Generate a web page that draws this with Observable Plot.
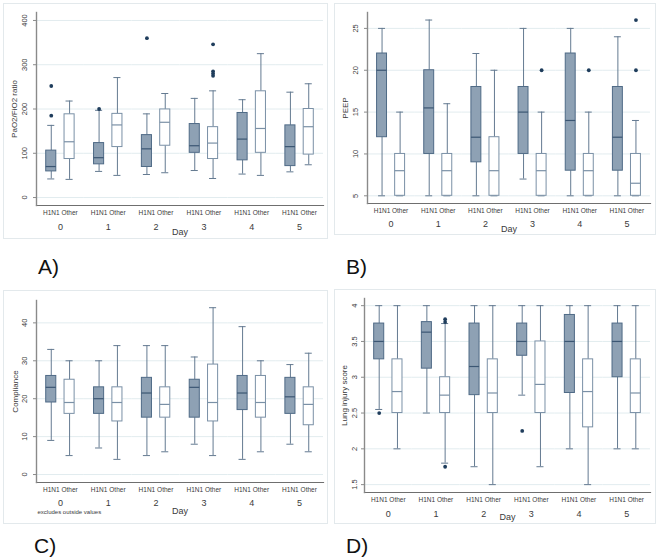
<!DOCTYPE html>
<html>
<head>
<meta charset="utf-8">
<script src="https://cdn.jsdelivr.net/npm/d3@7"></script>
<script src="https://cdn.jsdelivr.net/npm/@observablehq/plot@0.6"></script>
<style>
  html, body { margin: 0; padding: 0; background: #fff; }
  #page { position: relative; width: 662px; height: 558px; overflow: hidden; font-family: "Liberation Sans", Arial, sans-serif; }
  .frame { position: absolute; box-sizing: border-box; border: 1px solid #e3e9ec; }
  .holder { position: absolute; }
  .holder svg { display: block; max-width: none; }
  .tag { position: absolute; font-size: 21px; line-height: 21px; color: #111; font-family: "Liberation Sans", Arial, sans-serif; }
</style>
</head>
<body>
<div id="page"></div>
<script>
// ---------- shared categories ----------
const days = [0, 1, 2, 3, 4, 5];
const groups = ["H1N1", "Other"];
const xTitle = "Day";

// ---------- A) PaO2/FiO2 ratio ----------
const pfLabel = "PaO2/FiO2 ratio";
const pfTicks = [0, 100, 200, 300, 400];
const pfH1N1Low  = [42, 59, 52, 61, 53, 58];
const pfH1N1Q1   = [59, 75, 69, 101, 84, 71];
const pfH1N1Med  = [70, 90, 110, 117, 132, 115];
const pfH1N1Q3   = [106, 123, 141, 166, 191, 163];
const pfH1N1High = [163, 197, 189, 224, 221, 238];
const pfOtherLow  = [41, 50, 56, 43, 50, 74];
const pfOtherQ1   = [87, 114, 117, 87, 101, 97];
const pfOtherMed  = [126, 164, 170, 123, 156, 160];
const pfOtherQ3   = [188, 189, 199, 159, 240, 200];
const pfOtherHigh = [218, 271, 235, 241, 325, 257];
const pfOutDay   = [0, 0, 1, 2, 3, 3, 3, 3];
const pfOutGroup = ["H1N1", "H1N1", "H1N1", "H1N1", "Other", "Other", "Other", "Other"];
const pfOutValue = [252, 185, 200, 360, 346, 285, 280, 275];

// ---------- B) PEEP ----------
const peepLabel = "PEEP";
const peepTicks = [5, 10, 15, 20, 25];
const peepH1N1Low  = [5, 5, 5, 7, 5, 5];
const peepH1N1Q1   = [12, 10, 9, 10, 8, 8];
const peepH1N1Med  = [20, 15.5, 12, 15, 14, 12];
const peepH1N1Q3   = [22, 20, 18, 18, 22, 18];
const peepH1N1High = [25, 26, 22, 25, 25, 24];
const peepOtherLow  = [5, 5, 5, 5, 5, 5];
const peepOtherQ1   = [5, 5, 5, 5, 5, 5];
const peepOtherMed  = [8, 8, 8, 8, 8, 6.5];
const peepOtherQ3   = [10, 10, 12, 10, 10, 10];
const peepOtherHigh = [15, 16, 20, 15, 15, 14];
const peepOutDay   = [3, 4, 5, 5];
const peepOutGroup = ["Other", "Other", "Other", "Other"];
const peepOutValue = [20, 20, 20, 26];

// ---------- C) Compliance ----------
const compLabel = "Compliance";
const compNote = "excludes outside values";
const compTicks = [0, 10, 20, 30, 40];
const compH1N1Low  = [9, 7, 5, 8, 4, 8];
const compH1N1Q1   = [19, 16, 15, 15, 17, 16];
const compH1N1Med  = [23, 20, 21.5, 23, 21.5, 20.5];
const compH1N1Q3   = [26, 23, 25.5, 25, 26, 25.5];
const compH1N1High = [33, 30, 34, 31, 39, 29];
const compOtherLow  = [5, 4, 6, 5, 6, 6];
const compOtherQ1   = [16, 14, 15, 14, 15, 13];
const compOtherMed  = [19, 19, 18.5, 19, 19, 18.5];
const compOtherQ3   = [25, 23, 23, 29, 26, 23];
const compOtherHigh = [30, 34, 34, 44, 30, 32];
const compOutDay = [], compOutGroup = [], compOutValue = [];

// ---------- D) Lung injury score ----------
const lisLabel = "Lung injury score";
const lisTicks = [1.5, 2, 2.5, 3, 3.5, 4];
const lisH1N1Low  = [2.55, 2.5, 1.75, 2.75, 2, 2];
const lisH1N1Q1   = [3.25, 3.12, 2.75, 3.3, 2.78, 3];
const lisH1N1Med  = [3.5, 3.63, 3.15, 3.5, 3.5, 3.5];
const lisH1N1Q3   = [3.75, 3.77, 3.75, 3.75, 3.87, 3.75];
const lisH1N1High = [4, 4, 4, 4, 4, 4];
const lisOtherLow  = [2, 1.8, 1.5, 1.75, 1.5, 2];
const lisOtherQ1   = [2.5, 2.5, 2.5, 2.5, 2.3, 2.5];
const lisOtherMed  = [2.8, 2.75, 2.78, 2.9, 2.8, 2.78];
const lisOtherQ3   = [3.25, 3, 3.25, 3.5, 3.25, 3.25];
const lisOtherHigh = [4, 3.75, 4, 4, 4, 4];
const lisOutDay   = [0, 3, 1, 1, 1];
const lisOutGroup = ["H1N1", "H1N1", "Other", "Other", "Other"];
const lisOutValue = [2.5, 2.25, 3.81, 3.77, 1.75];

// ---------- styling ----------
const C = {
  h1Fill: "#8ea1b4", h1Stroke: "#4f6a86", h1Median: "#3b5673",
  otFill: "#ffffff", otStroke: "#7a90a6", otMedian: "#7a90a6",
  whisker: "#647a91", dot: "#1f3d5c", grid: "#e2ecef", axis: "#8a8a8a", text: "#3a3a3a"
};

function rowsFor(stats, group) {
  const [low, q1, med, q3, high] = stats;
  return days.map((d, i) => ({day: d, group, low: low[i], q1: q1[i], med: med[i], q3: q3[i], high: high[i]}));
}

function panel(cfg) {
  const H = rowsFor(cfg.h1, "H1N1");
  const O = rowsFor(cfg.ot, "Other");
  const all = H.concat(O);
  const outs = cfg.outDay.map((d, i) => ({day: d, group: cfg.outGroup[i], value: cfg.outValue[i]}));
  const marks = [
    Plot.gridY(cfg.ticks, {stroke: C.grid, strokeOpacity: 1, strokeWidth: 1}),
    Plot.ruleX(all, {fx: "day", x: "group", y1: "low", y2: "q1", stroke: C.whisker, strokeWidth: 1}),
    Plot.ruleX(all, {fx: "day", x: "group", y1: "q3", y2: "high", stroke: C.whisker, strokeWidth: 1}),
    Plot.tickY(all, {fx: "day", x: "group", y: "low", stroke: C.whisker, insetLeft: 1.5, insetRight: 1.5}),
    Plot.tickY(all, {fx: "day", x: "group", y: "high", stroke: C.whisker, insetLeft: 1.5, insetRight: 1.5}),
    Plot.barY(H, {fx: "day", x: "group", y1: "q1", y2: "q3", fill: C.h1Fill, stroke: C.h1Stroke, strokeWidth: 1}),
    Plot.barY(O, {fx: "day", x: "group", y1: "q1", y2: "q3", fill: C.otFill, stroke: C.otStroke, strokeWidth: 1}),
    Plot.tickY(H, {fx: "day", x: "group", y: "med", stroke: C.h1Median, strokeWidth: 1.2}),
    Plot.tickY(O, {fx: "day", x: "group", y: "med", stroke: C.otMedian, strokeWidth: 1.2}),
    Plot.dot(outs, {fx: "day", x: "group", y: "value", r: 1.9, fill: C.dot, stroke: null}),
    Plot.frame({anchor: "bottom", stroke: "#6f6f6f", strokeWidth: 1.2}),
    Plot.frame({anchor: "left", facetAnchor: "left", stroke: C.axis, strokeWidth: 1.4}),
    Plot.axisY({ticks: cfg.ticks, tickFormat: () => "", tickSize: 3, stroke: C.axis,
      label: cfg.label, labelAnchor: "center", labelArrow: false, labelOffset: cfg.labelOffset, fontSize: 8}),
    Plot.text(cfg.ticks, {fx: () => days[0], y: (d) => d, text: (d) => String(d), frameAnchor: "left",
      rotate: -90, textAnchor: "middle", lineAnchor: "bottom", dx: cfg.tickDx, fontSize: 7.5, fill: C.text}),
    Plot.axisX({anchor: "bottom", tickSize: 0, tickPadding: 4.5, fontSize: 6.5, label: null}),
    Plot.axisFx({anchor: "bottom", tickSize: 0, tickPadding: cfg.dayPad, fontSize: 9,
      label: xTitle, labelAnchor: "center", labelOffset: cfg.dayLabelOffset})
  ];
  if (cfg.note) {
    marks.push(Plot.text([cfg.note], {fx: () => days[0], frameAnchor: "bottom-left", textAnchor: "start",
      dx: 1, dy: cfg.noteDy, fontSize: 6, fill: C.text}));
  }
  return Plot.plot({
    width: cfg.w, height: cfg.h,
    marginLeft: cfg.ml, marginRight: cfg.mr, marginTop: cfg.mt, marginBottom: cfg.mb,
    style: {fontFamily: "'Liberation Sans', Arial, sans-serif", color: C.text, background: "transparent", overflow: "visible"},
    fx: {domain: days, padding: 0, round: false},
    x: {domain: groups, paddingInner: 0.45, paddingOuter: 0.53, round: false},
    y: {domain: cfg.yDomain},
    marks
  });
}

const panels = [
  {left: 3, top: 3, w: 325, h: 236, ml: 33, mr: 5, mt: 9, mb: 34, yDomain: [-18, 418],
   ticks: pfTicks, label: pfLabel, labelOffset: 25, tickDx: -10, dayPad: 18, dayLabelOffset: 29,
   h1: [pfH1N1Low, pfH1N1Q1, pfH1N1Med, pfH1N1Q3, pfH1N1High],
   ot: [pfOtherLow, pfOtherQ1, pfOtherMed, pfOtherQ3, pfOtherHigh],
   outDay: pfOutDay, outGroup: pfOutGroup, outValue: pfOutValue, tag: "A)", tagLeft: 38, tagTop: 256},
  {left: 334, top: 3, w: 322, h: 232, ml: 33, mr: 6, mt: 9, mb: 32, yDomain: [4.08, 26.9],
   ticks: peepTicks, label: peepLabel, labelOffset: 25, tickDx: -10, dayPad: 17, dayLabelOffset: 28,
   h1: [peepH1N1Low, peepH1N1Q1, peepH1N1Med, peepH1N1Q3, peepH1N1High],
   ot: [peepOtherLow, peepOtherQ1, peepOtherMed, peepOtherQ3, peepOtherHigh],
   outDay: peepOutDay, outGroup: peepOutGroup, outValue: peepOutValue, tag: "B)", tagLeft: 346, tagTop: 256},
  {left: 3, top: 290, w: 325, h: 234, ml: 33, mr: 5, mt: 10, mb: 42, yDomain: [-2.1, 45.9],
   ticks: compTicks, label: compLabel, labelOffset: 24, tickDx: -10, dayPad: 17.5, dayLabelOffset: 31,
   h1: [compH1N1Low, compH1N1Q1, compH1N1Med, compH1N1Q3, compH1N1High],
   ot: [compOtherLow, compOtherQ1, compOtherMed, compOtherQ3, compOtherHigh],
   outDay: compOutDay, outGroup: compOutGroup, outValue: compOutValue, note: compNote, noteDy: 31,
   tag: "C)", tagLeft: 34, tagTop: 535},
  {left: 334, top: 289, w: 322, h: 235, ml: 30, mr: 6, mt: 9, mb: 32, yDomain: [1.39, 4.1],
   ticks: lisTicks, label: lisLabel, labelOffset: 23, tickDx: -8, dayPad: 18, dayLabelOffset: 27,
   h1: [lisH1N1Low, lisH1N1Q1, lisH1N1Med, lisH1N1Q3, lisH1N1High],
   ot: [lisOtherLow, lisOtherQ1, lisOtherMed, lisOtherQ3, lisOtherHigh],
   outDay: lisOutDay, outGroup: lisOutGroup, outValue: lisOutValue, tag: "D)", tagLeft: 346, tagTop: 535}
];

const page = document.getElementById("page");
for (const p of panels) {
  const fr = document.createElement("div");
  fr.className = "frame";
  Object.assign(fr.style, {left: p.left + "px", top: p.top + "px", width: p.w + "px", height: p.h + "px"});
  page.appendChild(fr);
  const holder = document.createElement("div");
  holder.className = "holder";
  Object.assign(holder.style, {left: p.left + "px", top: p.top + "px", width: p.w + "px", height: p.h + "px"});
  holder.appendChild(panel(p));
  page.appendChild(holder);
  const tag = document.createElement("div");
  tag.className = "tag";
  tag.textContent = p.tag;
  Object.assign(tag.style, {left: p.tagLeft + "px", top: p.tagTop + "px"});
  page.appendChild(tag);
}
</script>
</body>
</html>
